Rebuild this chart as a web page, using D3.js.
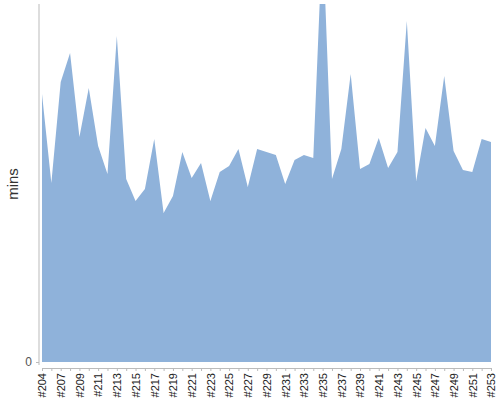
<!DOCTYPE html>
<html>
<head>
<meta charset="utf-8">
<script src="https://cdn.jsdelivr.net/npm/d3@7"></script>
<style>
  body { margin: 0; background: #fff; }
  svg { display: block; font-family: "Liberation Sans", Arial, sans-serif; }
</style>
</head>
<body>
<svg id="chart" width="500" height="400"></svg>
<script>
// categories (build numbers)
const builds = ["#204","#206","#207","#208","#209","#210","#211","#212","#213","#214",
  "#215","#216","#217","#218","#219","#220","#221","#222","#223","#224",
  "#225","#226","#227","#228","#229","#230","#231","#232","#233","#234",
  "#235","#236","#237","#238","#239","#240","#241","#242","#243","#244",
  "#245","#246","#247","#248","#249","#250","#251","#252","#253"];

// duration per build
const mins = [268, 179, 280, 309, 225, 274, 216, 188, 326, 183,
  161, 173, 223, 149, 166, 210, 184, 199, 161, 190,
  196, 213, 175, 213, 210, 207, 178, 202, 207, 204,
  430, 183, 213, 288, 193, 198, 224, 194, 210, 341,
  181, 234, 216, 286, 211, 192, 190, 223, 220];

const yTicks = [0];

const svg = d3.select("#chart");
const plotLeft = 42, plotRight = 491, plotTop = 4, plotBottom = 362;

const x = d3.scalePoint().domain(builds).range([plotLeft, plotRight]);
const y = d3.scaleLinear().domain([0, 358]).range([plotBottom, plotTop]);

// clip the area to the plot box (tallest build runs off the top)
svg.append("clipPath").attr("id", "plotClip")
  .append("rect")
  .attr("x", plotLeft).attr("y", plotTop)
  .attr("width", plotRight - plotLeft).attr("height", plotBottom - plotTop);

const area = d3.area()
  .x((d, i) => x(builds[i]))
  .y0(y(0))
  .y1(d => y(d))
  .curve(d3.curveLinear);

svg.append("path")
  .attr("clip-path", "url(#plotClip)")
  .attr("d", area(mins))
  .attr("fill", "#8fb2da");

// y axis
const yAxis = d3.axisLeft(y).tickValues(yTicks).tickSize(3).tickPadding(4);
const gy = svg.append("g")
  .attr("transform", "translate(39,0)")
  .call(yAxis);
gy.select(".domain").attr("d", "M0," + plotTop + "V" + (plotBottom + 3)).attr("stroke", "#bbb");
gy.selectAll(".tick line").attr("stroke", "#bbb");
gy.selectAll(".tick text")
  .attr("fill", "#555")
  .style("font-size", "12px");

// x axis
const xAxis = d3.axisBottom(x)
  .tickSize(3)
  .tickSizeOuter(0)
  .tickFormat((d, i) => i % 2 === 0 ? d : "");
const gx = svg.append("g")
  .attr("transform", "translate(0,368)")
  .call(xAxis);
gx.select(".domain").attr("stroke", "#bbb");
gx.selectAll(".tick line").attr("stroke", "#bbb");
gx.selectAll(".tick text")
  .attr("fill", "#222")
  .style("font-size", "11px")
  .attr("text-anchor", "end")
  .attr("transform", "rotate(-90)")
  .attr("x", -5)
  .attr("y", 0)
  .attr("dy", "0.35em");

// y axis title
svg.append("text")
  .attr("transform", "translate(18,184) rotate(-90)")
  .attr("text-anchor", "middle")
  .attr("fill", "#333")
  .style("font-size", "15px")
  .text("mins");
</script>
</body>
</html>
